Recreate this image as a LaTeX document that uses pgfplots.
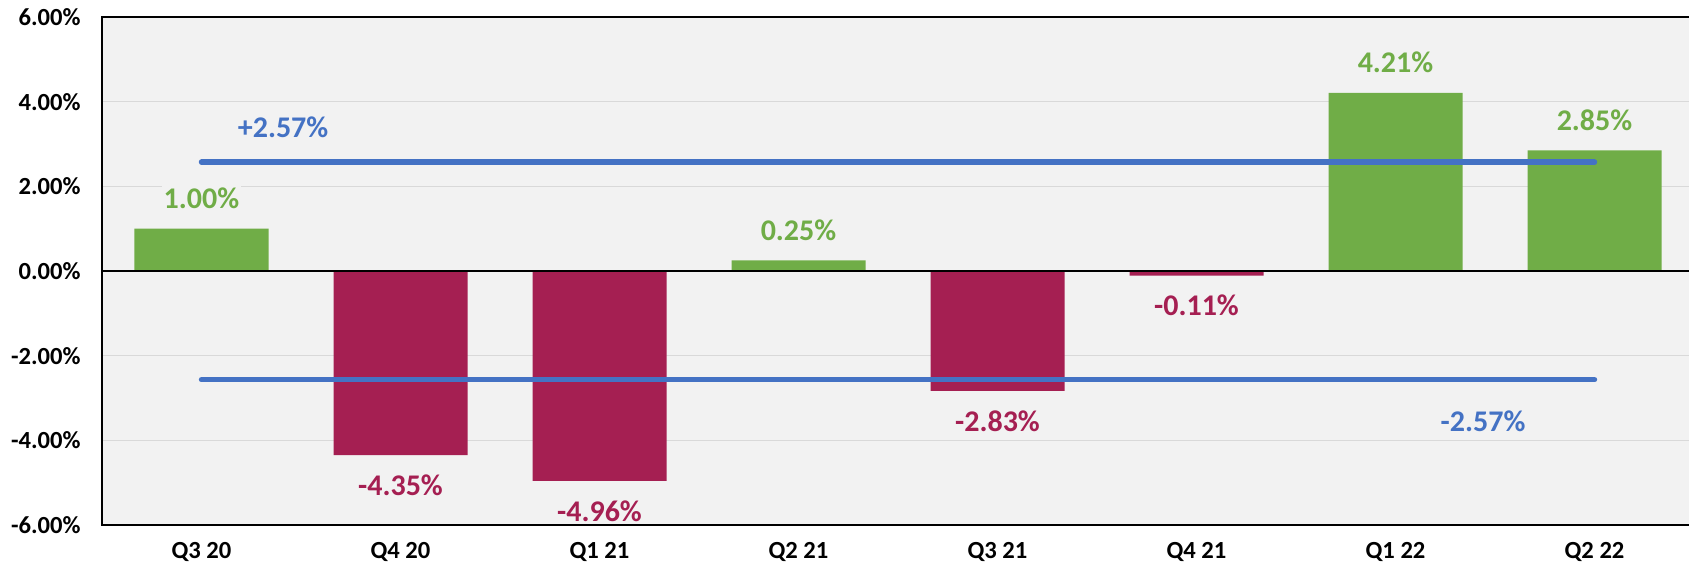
\documentclass[border=0pt]{standalone}
\usepackage{pgfplots}
\pgfplotsset{compat=1.18}
\usepackage{fontspec}
\setmainfont{Carlito}
\definecolor{bgray}{HTML}{F2F2F2}
\definecolor{ggreen}{HTML}{70AD47}
\definecolor{crim}{HTML}{A51F52}
\definecolor{lblue}{HTML}{4472C4}
\definecolor{gridc}{HTML}{D9D9D9}
\begin{document}
\begin{tikzpicture}
\path[use as bounding box] (-51pt,-21.5pt) rectangle (793.5pt,262.5pt);
\begin{axis}[
  at={(0,0)}, anchor=south west,
  scale only axis, width=796pt, height=254pt,
  xmin=-0.5, xmax=7.5, ymin=-6, ymax=6,
  axis background/.style={fill=bgray},
  axis line style={black, line width=0.8pt},
  xtick={0,...,7},
  xticklabels={Q3 20,Q4 20,Q1 21,Q2 21,Q3 21,Q4 21,Q1 22,Q2 22},
  ytick={-6,-4,-2,0,2,4,6},
  yticklabels={-6.00\%,-4.00\%,-2.00\%,0.00\%,2.00\%,4.00\%,6.00\%},
  major tick length=0pt,
  ymajorgrids, major grid style={gridc, line width=0.8pt},
  tick label style={font=\fontsize{12.3}{14}\selectfont\bfseries, inner sep=0pt},
  yticklabel style={anchor=east, xshift=-10.5pt},
  xticklabel style={anchor=north, yshift=-8.5pt},
  ybar, bar width=67pt,
  point meta=explicit symbolic,
  nodes near coords={\pgfplotspointmeta},
  clip=false,
]
\addplot[ybar, bar shift=0pt, fill=ggreen, draw=none,
  every node near coord/.style={anchor=center, yshift=15pt, text=ggreen, font=\fontsize{15}{17}\selectfont\bfseries, fill=bgray, inner sep=1pt}]
  coordinates {(0,1.00)[1.00\%] (3,0.25)[0.25\%] (6,4.21)[4.21\%] (7,2.85)[2.85\%]};
\addplot[ybar, bar shift=0pt, fill=crim, draw=none,
  every node near coord/.style={anchor=center, yshift=-15pt, text=crim, font=\fontsize{15}{17}\selectfont\bfseries, inner sep=1pt}]
  coordinates {(1,-4.35)[-4.35\%] (2,-4.96)[-4.96\%] (4,-2.83)[-2.83\%] (5,-0.11)[-0.11\%]};
\addplot[sharp plot, black, line width=0.8pt, nodes near coords={}] coordinates {(-0.5,0) (7.5,0)};
\addplot[sharp plot, lblue, line width=2.7pt, line cap=round, nodes near coords={}] coordinates {(0,2.57) (7,2.57)};
\addplot[sharp plot, lblue, line width=2.7pt, line cap=round, nodes near coords={}] coordinates {(0,-2.57) (7,-2.57)};
\node[text=lblue, font=\fontsize{15}{17}\selectfont\bfseries] at (axis cs:0.41,3.40) {+2.57\%};
\node[text=lblue, font=\fontsize{15}{17}\selectfont\bfseries] at (axis cs:6.44,-3.55) {-2.57\%};
\end{axis}
\end{tikzpicture}
\end{document}
